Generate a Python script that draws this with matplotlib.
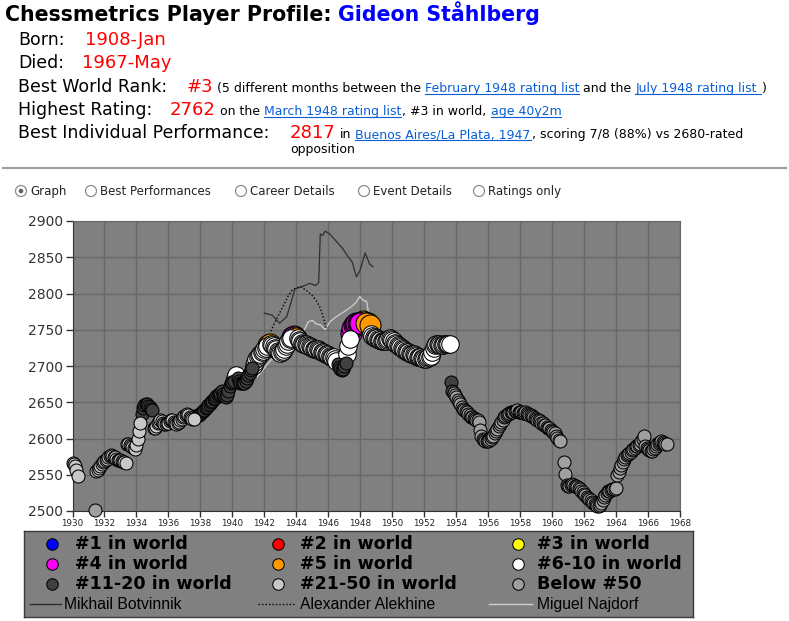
import matplotlib
matplotlib.use("Agg")
import matplotlib.pyplot as plt
from matplotlib.lines import Line2D
from matplotlib.patches import Circle
from matplotlib.transforms import IdentityTransform
import numpy as np
import pandas as pd

# ---------------------------------------------------------------- data
rank_codes = [1, 2, 3, 4, 5, 6, 11, 21, 51]
rank_labels = ["#1 in world", "#2 in world", "#3 in world",
               "#4 in world", "#5 in world", "#6-10 in world",
               "#11-20 in world", "#21-50 in world", "Below #50"]
rank_colors = ["#0000ff", "#ff0000", "#ffff00", "#ff00ff", "#ff9900",
               "#ffffff", "#404040", "#c8c8c8", "#a0a0a0"]
rank_marker_px = [21, 21, 21, 21, 21, 17.5, 13, 13, 13]

# monthly ratings, one list per unbroken run of rating lists
start_1930 = "1930-01"
ratings_1930 = [2566, 2565, 2562, 2557, 2548]
rank_runs_1930 = [(21, 5)]

start_1931 = "1931-06"
ratings_1931 = [
    2502, 2555, 2557, 2560, 2562, 2565, 2567,
    2569, 2571, 2572, 2574, 2576, 2577, 2576, 2575, 2574, 2572, 2571, 2570,
    2570, 2569, 2568, 2567, 2566,
]
rank_runs_1931 = [(51, 1), (21, 23)]

start_1933 = "1933-06"
ratings_1933 = [
    2593, 2592, 2591, 2589, 2588, 2587, 2586,                               # 1933
    2591, 2600, 2611, 2621, 2634, 2642, 2646, 2648, 2647, 2645, 2643, 2641,  # 1934
    2640, 2615, 2614, 2617, 2621, 2623, 2625, 2624, 2622, 2620, 2620, 2621,  # 1935
    2622, 2624, 2626, 2625, 2623, 2621, 2620, 2621, 2623, 2625, 2627, 2629,  # 1936
    2631, 2633, 2634, 2632, 2630, 2628, 2627, 2627, 2630, 2631, 2632, 2633,  # 1937
    2634, 2636, 2638, 2640, 2642, 2644, 2646, 2648, 2650, 2652, 2654, 2656,  # 1938
    2658, 2660, 2661, 2663, 2665, 2662, 2658, 2657, 2660, 2666, 2672, 2676,  # 1939
    2678, 2680, 2684, 2688, 2684, 2680, 2677, 2676, 2676, 2677, 2679, 2683,  # 1940
    2687, 2691, 2694, 2697, 2701, 2705, 2709, 2712, 2715, 2717, 2719, 2721,  # 1941
    2723, 2725, 2727, 2729, 2730, 2730, 2729, 2727, 2725, 2723, 2721, 2719,  # 1942
    2718, 2719, 2721, 2724, 2728, 2731, 2734, 2737, 2739, 2740, 2741, 2740,  # 1943
    2739, 2738, 2736, 2734, 2732, 2731, 2730, 2730, 2729, 2728, 2727, 2726,  # 1944
    2725, 2724, 2724, 2723, 2723, 2722, 2721, 2720, 2719, 2718, 2717, 2716,  # 1945
    2715, 2714, 2713, 2713, 2712, 2710, 2707, 2703, 2699, 2696, 2695, 2696,  # 1946
    2700, 2704, 2716, 2728, 2737, 2745, 2752, 2756, 2758, 2759, 2760, 2760,  # 1947
    2760, 2761, 2762, 2761, 2760, 2760, 2759, 2757, 2744, 2741, 2740, 2739,  # 1948
    2738, 2737, 2736, 2736, 2735, 2735, 2734, 2735, 2736, 2737, 2738, 2737,  # 1949
    2736, 2734, 2732, 2730, 2729, 2727, 2726, 2725, 2724, 2722, 2721, 2720,  # 1950
    2719, 2718, 2717, 2716, 2716, 2715, 2714, 2713, 2712, 2712, 2711, 2711,  # 1951
    2710, 2710, 2711, 2712, 2712, 2714, 2719, 2725, 2729, 2731, 2731, 2730,  # 1952
    2729, 2729, 2729, 2730, 2730, 2731, 2731, 2730, 2678, 2666, 2663, 2660,  # 1953
    2657, 2653, 2650, 2647, 2644, 2641, 2639, 2638, 2636, 2634, 2632, 2630,  # 1954
    2629, 2628, 2627, 2626, 2625, 2623, 2612, 2603, 2600, 2598, 2597, 2597,  # 1955
    2597, 2598, 2600, 2602, 2604, 2607, 2610, 2613, 2617, 2620, 2623, 2626,  # 1956
    2629, 2631, 2633, 2634, 2635, 2636, 2637, 2637, 2638, 2638, 2639, 2637,  # 1957
    2636, 2636, 2635, 2635, 2636, 2635, 2634, 2633, 2632, 2631, 2630, 2628,  # 1958
    2627, 2626, 2625, 2624, 2622, 2621, 2619, 2618, 2616, 2615, 2614, 2612,  # 1959
    2611, 2609, 2607, 2604, 2601, 2598, 2596,                               # 1960
]
rank_runs_1933 = [
    (21, 11), (11, 9), (21, 31), (11, 30), (6, 2), (11, 12), (6, 11),
    (5, 2), (6, 16), (4, 2), (5, 2), (6, 30), (11, 7), (6, 3), (4, 8),
    (3, 3), (5, 1), (3, 2), (5, 1), (6, 60), (11, 2), (51, 81),
]

start_1960 = "1960-10"
ratings_1960 = [
    2568, 2551, 2536,
    2534, 2535, 2536, 2537, 2536, 2535, 2534, 2533, 2532, 2530, 2528, 2526,  # 1961
    2524, 2522, 2520, 2518, 2517, 2515, 2513, 2511, 2509, 2508, 2507, 2507,  # 1962
    2508, 2511, 2515, 2519, 2522, 2525, 2527, 2528, 2529, 2530, 2531, 2531,  # 1963
    2532, 2549, 2554, 2559, 2564, 2568, 2572, 2575, 2577, 2579, 2580, 2582,  # 1964
    2584, 2586, 2587, 2589, 2590, 2591, 2593, 2596, 2599, 2603, 2590, 2587,  # 1965
    2586, 2584, 2583, 2583, 2585, 2587, 2590, 2592, 2594, 2595, 2596, 2595,  # 1966
    2594, 2593, 2593,                                                       # 1967
]
rank_runs_1960 = [(51, 78)]

# comparison players
botvinnik_years = [1942.0, 1942.5, 1942.95, 1943.4, 1943.7, 1943.9, 1944.4,
                   1944.85, 1945.2, 1945.4, 1945.5, 1945.65, 1945.8, 1946.1,
                   1946.5, 1946.9, 1947.2, 1947.5, 1947.76, 1947.95, 1948.1,
                   1948.3, 1948.45, 1948.6, 1948.8]
botvinnik_ratings = [2773, 2770, 2759, 2768, 2790, 2806, 2810, 2814, 2811,
                     2815, 2882, 2880, 2886, 2882, 2872, 2862, 2852, 2843,
                     2823, 2830, 2840, 2856, 2848, 2840, 2837]

alekhine_years = [1942.4, 1942.7, 1943.0, 1943.3, 1943.5, 1943.75, 1944.0,
                  1944.3, 1944.7, 1945.0, 1945.25, 1945.5, 1945.7, 1945.9]
alekhine_ratings = [2748, 2762, 2775, 2788, 2797, 2805, 2808, 2809, 2803,
                    2797, 2790, 2780, 2766, 2750]

najdorf_years = [1941.55, 1941.9, 1942.2, 1942.5, 1942.9, 1943.4, 1943.9,
                 1944.3, 1944.55, 1944.75, 1945.0, 1945.25, 1945.5, 1945.8,
                 1946.1, 1946.5, 1947.0, 1947.45, 1947.75, 1947.97, 1948.15,
                 1948.4, 1948.5]
najdorf_ratings = [2685, 2694, 2703, 2710, 2718, 2726, 2734, 2742, 2752,
                   2761, 2763, 2758, 2757, 2750, 2761, 2768, 2775, 2782,
                   2788, 2796, 2791, 2789, 2775]

x_ticks = list(range(1930, 1969, 2))
y_ticks = list(range(2500, 2901, 50))


def month_positions(start, n):
    p = pd.period_range(start, periods=n, freq="M")
    return np.asarray(p.year + (p.month - 1) / 12.0, dtype=float)


def expand_runs(runs):
    out = []
    for code, n in runs:
        out.extend([code] * n)
    return out


spans = [
    (start_1930, ratings_1930, rank_runs_1930),
    (start_1931, ratings_1931, rank_runs_1931),
    (start_1933, ratings_1933, rank_runs_1933),
    (start_1960, ratings_1960, rank_runs_1960),
]
years, ratings, ranks = [], [], []
for start, vals, runs in spans:
    r = expand_runs(runs)
    assert len(r) == len(vals), (start, len(r), len(vals))
    years.append(month_positions(start, len(vals)))
    ratings.append(np.asarray(vals, dtype=float))
    ranks.append(np.asarray(r))
years = np.concatenate(years)
ratings = np.concatenate(ratings)
ranks = np.concatenate(ranks)

# ---------------------------------------------------------------- figure
W, H = 789, 621
fig = plt.figure(figsize=(W / 100, H / 100), dpi=100)
fig.patch.set_facecolor("white")
renderer = fig.canvas.get_renderer()

RED = "#ff0000"
LINK = "#0a5fd6"


def put(x, y, s, size, color="black", weight="normal", link=False,
        family="DejaVu Sans"):
    """Text with left edge at pixel x and baseline at pixel y (from top)."""
    t = fig.text(x / W, 1 - y / H, s, fontsize=size, color=color,
                 fontweight=weight, ha="left", va="baseline", family=family)
    bb = t.get_window_extent(renderer)
    if link:
        fig.add_artist(Line2D([bb.x0 / W, bb.x1 / W],
                              [1 - (y + 2) / H] * 2,
                              transform=fig.transFigure, color=color, lw=0.8))
    return bb.x1


# header
end = put(5, 21, "Chessmetrics Player Profile:", 14.8, weight="bold")
put(end + 6, 21, "Gideon Ståhlberg", 14.8, color="#0000ff", weight="bold")

BIG, VAL, SMALL = 12.5, 13, 9
put(18, 45, "Born:", BIG)
put(85, 45, "1908-Jan", VAL, color=RED)
put(18, 68, "Died:", BIG)
put(82, 68, "1967-May", VAL, color=RED)

put(18, 92, "Best World Rank:", BIG)
end = put(187, 92, "#3", VAL, color=RED)
end = put(end + 3, 92, "(5 different months between the", SMALL)
end = put(end + 4, 92, "February 1948 rating list", SMALL, color=LINK, link=True)
end = put(end + 4, 92, "and the", SMALL)
end = put(end + 4, 92, "July 1948 rating list ", SMALL, color=LINK, link=True)
put(end + 1, 92, ")", SMALL)

put(18, 115, "Highest Rating:", BIG)
end = put(170, 115, "2762", VAL, color=RED)
end = put(end + 4, 115, "on the", SMALL)
end = put(end + 4, 115, "March 1948 rating list", SMALL, color=LINK, link=True)
end = put(end + 1, 115, ", #3 in world,", SMALL)
put(end + 4, 115, "age 40y2m", SMALL, color=LINK, link=True)

put(18, 138, "Best Individual Performance:", BIG)
end = put(290, 138, "2817", VAL, color=RED)
end = put(end + 4, 138, "in", SMALL)
end = put(end + 4, 138, "Buenos Aires/La Plata, 1947", SMALL, color=LINK, link=True)
put(end + 1, 138, ", scoring 7/8 (88%) vs 2680-rated", SMALL)
put(290, 153, "opposition", SMALL)

fig.add_artist(Line2D([3 / W, 786 / W], [1 - 168 / H] * 2,
                      transform=fig.transFigure, color="#a0a0a0", lw=1.6))

# view selector
radio_labels = ["Graph", "Best Performances", "Career Details",
                "Event Details", "Ratings only"]
radio_x = [21, 91, 241, 364, 479]
for i, (rx, lab) in enumerate(zip(radio_x, radio_labels)):
    fig.add_artist(Circle((rx, H - 191), 5.5, transform=IdentityTransform(),
                          facecolor="white", edgecolor="#8c8c8c", lw=0.9))
    if i == 0:
        fig.add_artist(Circle((rx, H - 191), 2.3, transform=IdentityTransform(),
                              facecolor="#606060", edgecolor="none"))
    put(rx + 9, 195, lab, 8.5, color="#222222")

# ---------------------------------------------------------------- rating chart
ax = fig.add_axes([72.5 / W, 1 - 511 / H, (680 - 72.5) / W, (511 - 221) / H])
ax.set_facecolor("#808080")
ax.set_xlim(1930, 1968)
ax.set_ylim(2500, 2900)
ax.set_xticks(x_ticks)
ax.set_yticks(y_ticks)
ax.grid(True, color="#686868", lw=1)
ax.set_axisbelow(True)
for side in ("top", "right"):
    ax.spines[side].set_color("#686868")
for side in ("left", "bottom"):
    ax.spines[side].set_color("#333333")
ax.tick_params(axis="y", length=5, width=1, color="#333333",
               labelsize=10, labelcolor="#333333", pad=2)
ax.tick_params(axis="x", length=4, width=1, color="#333333",
               labelsize=6.3, labelcolor="#222222", pad=2)

ax.plot(najdorf_years, najdorf_ratings, color="#cfcfcf", lw=0.9, zorder=2)
ax.plot(botvinnik_years, botvinnik_ratings, color="#2e2e2e", lw=0.9, zorder=2)
ax.plot(alekhine_years, alekhine_ratings, color="black", lw=1.0,
        ls=(0, (1, 1.5)), zorder=2)

for code, color, dpx in zip(rank_codes, rank_colors, rank_marker_px):
    m = ranks == code
    if not m.any():
        continue
    ax.scatter(years[m], ratings[m], s=(dpx * 0.72) ** 2, c=color,
               edgecolors="black", linewidths=0.75, zorder=3, clip_on=False)

# ---------------------------------------------------------------- key
lax = fig.add_axes([24 / W, 1 - 617 / H, (693 - 24) / W, (617 - 531) / H])
lax.set_xlim(24, 693)
lax.set_ylim(617, 531)
lax.set_facecolor("#808080")
lax.set_xticks([])
lax.set_yticks([])
for sp in lax.spines.values():
    sp.set_color("#3a3a3a")
    sp.set_linewidth(1)

col_marker_x = [52, 278, 518]
col_text_x = [75, 300, 537]
row_y = [544, 564, 584]
for i, (lab, color) in enumerate(zip(rank_labels, rank_colors)):
    r, c = divmod(i, 3)
    lax.scatter([col_marker_x[c]], [row_y[r]], s=(11.5 * 0.72) ** 2, c=color,
                edgecolors="black", linewidths=0.75, zorder=3)
    lax.text(col_text_x[c], row_y[r], lab, fontsize=12.6, fontweight="bold",
             color="black", va="center", ha="left")

line_names = ["Mikhail Botvinnik", "Alexander Alekhine", "Miguel Najdorf"]
line_styles = [dict(color="#2e2e2e", ls="-"), dict(color="black", ls=(0, (1, 1.5))),
               dict(color="#cfcfcf", ls="-")]
line_x = [(30, 61), (258, 295), (489, 532)]
line_text_x = [64, 300, 537]
for name, st, (x0, x1), tx in zip(line_names, line_styles, line_x, line_text_x):
    lax.plot([x0, x1], [604, 604], lw=1, **st)
    lax.text(tx, 604.5, name, fontsize=11.3, family="Liberation Sans",
             color="black", va="center", ha="left")

fig.savefig("out.png", dpi=100, facecolor="white")
